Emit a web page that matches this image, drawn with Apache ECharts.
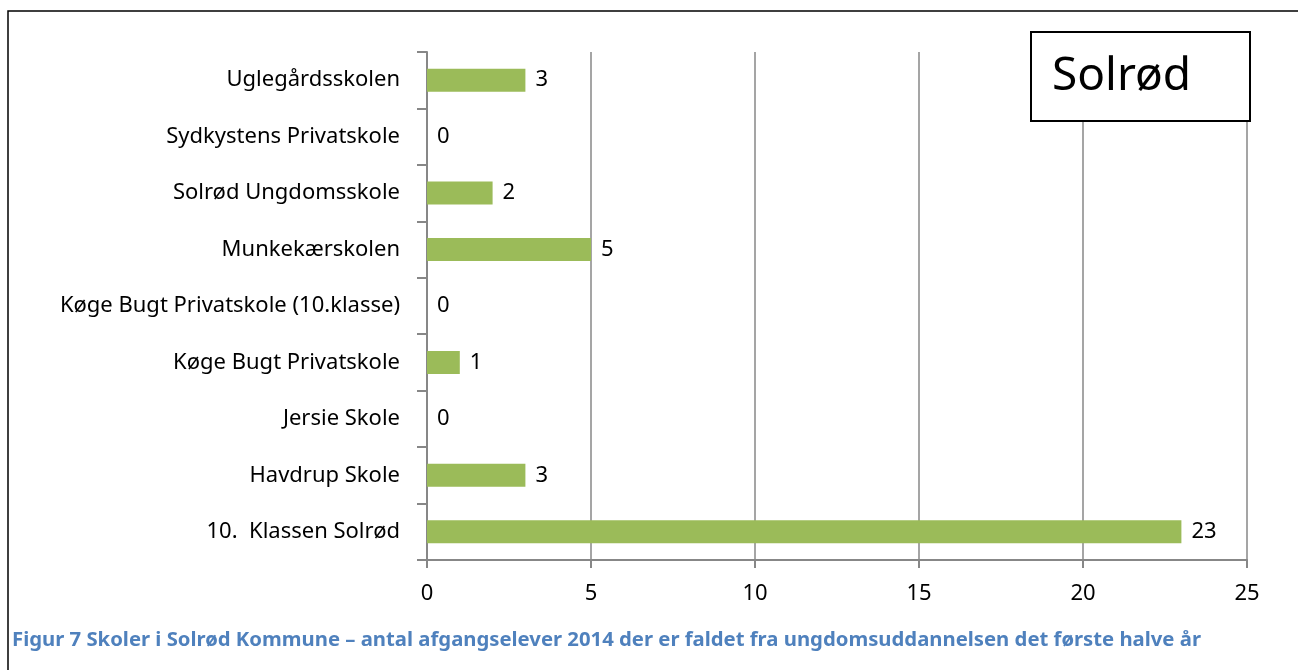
<!DOCTYPE html>
<html>
<head>
<meta charset="utf-8">
<script src="https://cdn.jsdelivr.net/npm/echarts@6/dist/echarts.min.js"></script>
<style>
html,body{margin:0;padding:0;background:#fff;}
#chart{width:1298px;height:670px;}
</style>
</head>
<body>
<div id="chart"></div>
<script>
var schools=['10.  Klassen Solrød','Havdrup Skole','Jersie Skole','Køge Bugt Privatskole','Køge Bugt Privatskole (10.klasse)','Munkekærskolen','Solrød Ungdomsskole','Sydkystens Privatskole','Uglegårdsskolen'];
var dropouts=[23,3,0,1,0,5,2,0,3];
var xTicks=[0,5,10,15,20,25];
var boxTitle='Solrød';
var caption='Figur 7 Skoler i Solrød Kommune – antal afgangselever 2014 der er faldet fra ungdomsuddannelsen det første halve år';

var chart=echarts.init(document.getElementById('chart'));
var font='"Noto Sans", sans-serif';
var option={
	animation:false,
	grid:{left:427,right:51,top:52,bottom:110},
	xAxis:{
		type:'value',
		min:xTicks[0],
		max:xTicks[xTicks.length-1],
		interval:5,
		axisLine:{show:true,lineStyle:{color:'#878787',width:2}},
		axisTick:{show:true,length:8,lineStyle:{color:'#878787',width:2}},
		axisLabel:{color:'#000',fontSize:22,fontFamily:font,margin:23},
		splitLine:{show:true,lineStyle:{color:'#878787',width:1.5}}
	},
	yAxis:{
		type:'category',
		data:schools,
		axisLine:{show:true,lineStyle:{color:'#878787',width:2}},
		axisTick:{show:true,length:10,lineStyle:{color:'#878787',width:2}},
		axisLabel:{color:'#000',fontSize:22,fontFamily:font,margin:27}
	},
	series:[{
		type:'bar',
		data:dropouts,
		barWidth:23,
		itemStyle:{color:'#9BBB59'},
		label:{show:true,position:'right',distance:10,color:'#000',fontSize:22,fontFamily:font}
	}],
	graphic:[
		{type:'rect',shape:{x:8,y:11,width:1320,height:700},style:{fill:'none',stroke:'#000',lineWidth:1.5},z:-1},
		{type:'rect',shape:{x:1031,y:32,width:219,height:89},style:{fill:'#fff',stroke:'#000',lineWidth:2},z:100},
		{type:'text',left:1052,top:54,style:{text:boxTitle,font:'46px "Noto Sans", sans-serif',fill:'#000'},z:101},
		{type:'text',left:12,top:630,style:{text:caption,font:'bold 20.3px "Noto Sans", sans-serif',fill:'#4F81BD'},z:101}
	]
};
chart.setOption(option);
</script>
</body>
</html>
